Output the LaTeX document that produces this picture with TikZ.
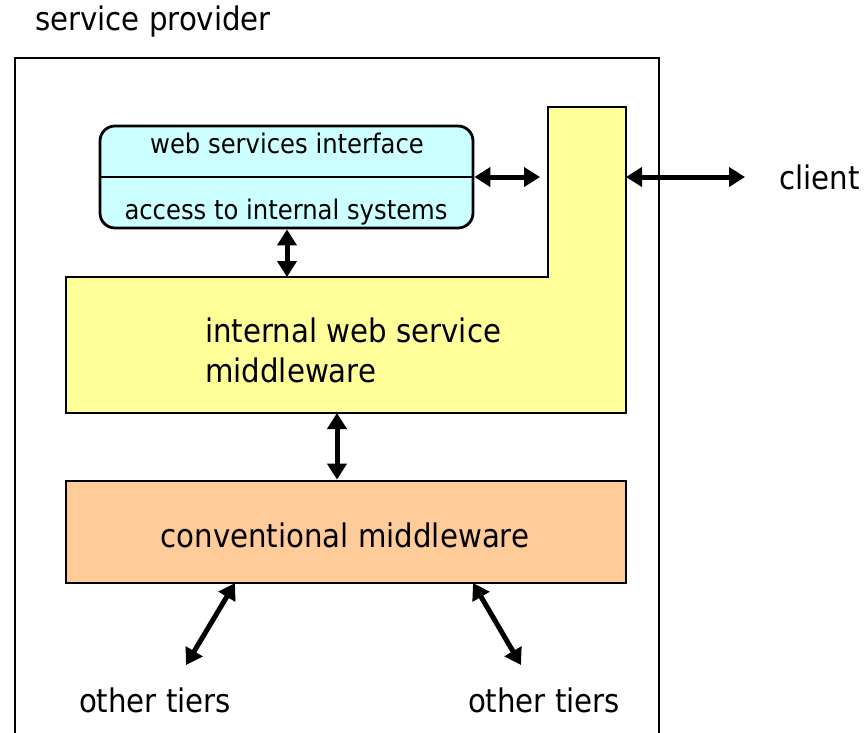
\documentclass[tikz,border=0pt]{standalone}
\usepackage{fontspec}
\setmainfont{DejaVu Sans Condensed}
\usetikzlibrary{arrows.meta}
\definecolor{wscyan}{HTML}{CCFFFF}
\definecolor{wsyellow}{HTML}{FFFF99}
\definecolor{wsorange}{HTML}{FFCC99}
\tikzset{
  outline/.style={draw=black, line width=2.8},
  bigtext/.style={font=\fontsize{32.5}{40}\selectfont, inner sep=0},
  smalltext/.style={font=\fontsize{27}{30}\selectfont, inner sep=0},
  dbl/.style={line width=5,
    {Triangle[length=16,width=19]}-{Triangle[length=16,width=19]}},
}
\begin{document}
\begin{tikzpicture}[x=1pt,y=-1pt]
\useasboundingbox (0,0) rectangle (865,732);
\clip (0,0) rectangle (865,732);

% service provider frame (open at the bottom)
\node[outline, minimum width=644, minimum height=700, inner sep=0] (prov) at (337,408) {};
\node[bigtext] (provlabel) at (153,22) {service provider};

% L-shaped internal web service middleware
\draw[outline, fill=wsyellow] (66,277) -- (548,277) -- (548,107) -- (626,107)
  -- (626,413) -- (66,413) -- cycle;
\coordinate (ywleft) at (540,177);
\coordinate (ywright) at (626,177);
\coordinate (ywtop) at (287,277);
\coordinate (ywbottom) at (337,413);
\node[bigtext, align=left, anchor=west] (iwsm) at (205,350) {internal web service\\middleware};

% web services box with its divider
\node[outline, fill=wscyan, rounded corners=15, minimum width=373, minimum height=102, inner sep=0] (ws) at (286.5,177) {};
\draw[line width=2.8] (ws.west) -- (ws.east);
\node[smalltext] (wsi) at (287,143) {web services interface};
\node[smalltext] (ais) at (286,212) {access to internal systems};

% conventional middleware
\node[outline, fill=wsorange, minimum width=560, minimum height=102, inner sep=0] (cm) at (346,532) {};
\node[bigtext] (cmlabel) at (345,535) {conventional middleware};

% client and other tiers
\coordinate (clientend) at (745,177);
\node[bigtext, anchor=west] (client) at (779,177) {client};
\node[bigtext] (ot1) at (155,700) {other tiers};
\node[bigtext] (ot2) at (544,700) {other tiers};
\coordinate (ot1end) at (186,665);
\coordinate (ot2end) at (521,665);

% connectors
\draw[dbl] (ws.east) -- (ywleft);
\draw[dbl] (ywright) -- (clientend);
\draw[dbl] (ws.south -| ywtop) -- (ywtop);
\draw[dbl] (ywbottom) -- (cm.north -| ywbottom);
\draw[dbl] (235,583) -- (ot1end);
\draw[dbl] (473,583) -- (ot2end);
\end{tikzpicture}
\end{document}
